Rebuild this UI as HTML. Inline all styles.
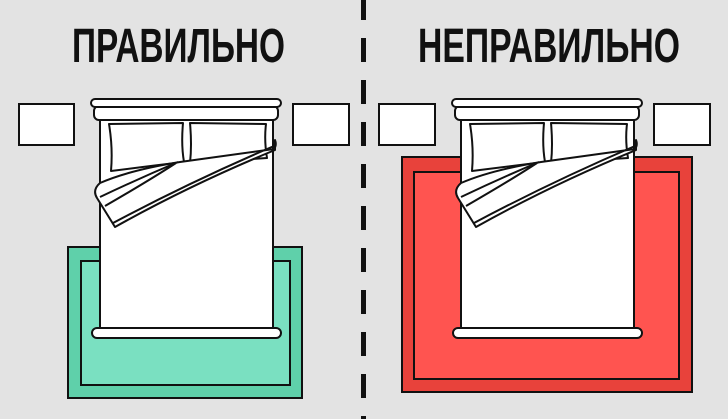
<!DOCTYPE html>
<html><head><meta charset="utf-8"><style>
html,body{margin:0;padding:0;background:#e3e3e3;}
svg{display:block}
</style></head><body>
<svg width="728" height="419" viewBox="0 0 728 419" xmlns="http://www.w3.org/2000/svg">
<rect width="728" height="419" fill="#e3e3e3"/>
<defs>
<g id="bed" stroke="#111" stroke-width="2" fill="#fff" stroke-linejoin="round">
  <rect x="100" y="118" width="173" height="214"/>
  <rect x="94" y="106" width="184" height="14" rx="5"/>
  <rect x="91" y="99" width="190" height="8" rx="4"/>
  <path d="M109,124 L183,123 Q181,145 184,162 Q150,166 111,171 Q113,148 109,124 Z"/>
  <path d="M190,123 L266,124 Q264,140 267,158 L190,163 Q192,145 190,123 Z"/>
  <path d="M275,140 Q277,145 274,149 L180,162 Q130,170 100,183 Q92,190 97,198 L115,227 Q190,185 275,150 Z"/>
  <path d="M100,197 Q140,178 178,162" fill="none"/>
  <path d="M105,206 Q150,180 176,163" fill="none"/>
  <path d="M113,223 Q190,182 274,146" fill="none"/>
  <rect x="92" y="328" width="189" height="10" rx="5"/>
</g>
</defs>

<text x="72" y="62" font-family="Liberation Sans, sans-serif" font-weight="bold" font-size="48" textLength="213" lengthAdjust="spacingAndGlyphs" fill="#111">ПРАВИЛЬНО</text>
<text x="418" y="62" font-family="Liberation Sans, sans-serif" font-weight="bold" font-size="48" textLength="262" lengthAdjust="spacingAndGlyphs" fill="#111">НЕПРАВИЛЬНО</text>

<line x1="363.5" y1="-4" x2="363.5" y2="419" stroke="#111" stroke-width="5" stroke-dasharray="24 18"/>

<!-- left -->
<rect x="19" y="104" width="55" height="41" fill="#fff" stroke="#111" stroke-width="2"/>
<rect x="293" y="104" width="56" height="41" fill="#fff" stroke="#111" stroke-width="2"/>
<rect x="68" y="247" width="234" height="151" fill="#5fd0aa" stroke="#111" stroke-width="2"/>
<rect x="81" y="261" width="209" height="124" fill="#7ae0c1" stroke="#111" stroke-width="2"/>
<use href="#bed"/>

<!-- right -->
<rect x="379" y="104" width="56" height="41" fill="#fff" stroke="#111" stroke-width="2"/>
<rect x="654" y="104" width="56" height="41" fill="#fff" stroke="#111" stroke-width="2"/>
<rect x="402" y="157" width="290" height="235" fill="#e8423b" stroke="#111" stroke-width="2"/>
<rect x="414" y="172" width="265" height="207" fill="#ff5450" stroke="#111" stroke-width="2"/>
<use href="#bed" transform="translate(361,0)"/>
</svg>
</body></html>
